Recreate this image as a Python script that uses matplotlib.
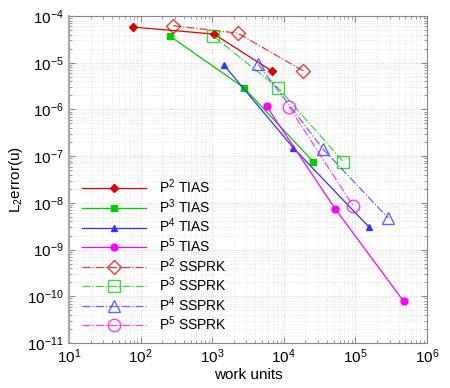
import matplotlib
matplotlib.use("Agg")
import matplotlib.pyplot as plt
from matplotlib.ticker import LogLocator, NullFormatter, FixedLocator, LogFormatterSciNotation

plt.rcParams['font.family'] = ['Liberation Sans', 'DejaVu Sans']
plt.rcParams['mathtext.fontset'] = 'custom'
plt.rcParams['mathtext.rm'] = 'Liberation Sans'
plt.rcParams['mathtext.it'] = 'Liberation Sans:italic'
plt.rcParams['mathtext.bf'] = 'Liberation Sans:bold'

# data
p2_tias_x = [78, 1060, 6840]
p2_tias_y = [5.8e-5, 4.1e-5, 6.6e-6]
p3_tias_x = [257, 2780, 25800]
p3_tias_y = [3.7e-5, 2.9e-6, 7.6e-8]
p4_tias_x = [1460, 13600, 156000]
p4_tias_y = [8.9e-6, 1.5e-7, 3.0e-9]
p5_tias_x = [5770, 52400, 473000]
p5_tias_y = [1.16e-6, 7.4e-9, 7.8e-11]

p2_ssprk_x = [286, 2270, 18700]
p2_ssprk_y = [6.2e-5, 4.3e-5, 6.7e-6]
p3_ssprk_x = [1040, 8300, 67800]
p3_ssprk_y = [3.7e-5, 2.9e-6, 7.6e-8]
p4_ssprk_x = [4400, 35600, 288000]
p4_ssprk_y = [9.2e-6, 1.4e-7, 4.7e-9]
p5_ssprk_x = [11800, 93500]
p5_ssprk_y = [1.15e-6, 8.5e-9]

x_ticks = [1e1, 1e2, 1e3, 1e4, 1e5, 1e6]
y_ticks = [1e-11, 1e-10, 1e-9, 1e-8, 1e-7, 1e-6, 1e-5, 1e-4]

labels = [r"P$^2$ TIAS", r"P$^3$ TIAS", r"P$^4$ TIAS", r"P$^5$ TIAS",
          r"P$^2$ SSPRK", r"P$^3$ SSPRK", r"P$^4$ SSPRK", r"P$^5$ SSPRK"]

fig = plt.figure(figsize=(4.5, 3.88), dpi=100)
ax = fig.add_axes([69/450, 1-343/388, (427-69)/450, (343-16)/388])

red, green, blue, mag = '#dd0000', '#00cc00', '#3333ff', '#ff00ff'
lw = 0.9
ax.plot(p2_tias_x, p2_tias_y, '-', color=red, marker='D', ms=4.5, lw=lw, label=labels[0])
ax.plot(p3_tias_x, p3_tias_y, '-', color=green, marker='s', ms=4.5, lw=lw, label=labels[1])
ax.plot(p4_tias_x, p4_tias_y, '-', color=blue, marker='^', ms=5, lw=lw, label=labels[2])
ax.plot(p5_tias_x, p5_tias_y, '-', color=mag, marker='o', ms=5, lw=lw, label=labels[3])

a = 0.75
ax.plot(p2_ssprk_x, p2_ssprk_y, '-.', color=red, marker='D', ms=7.5, mfc='none', lw=lw, alpha=a, label=labels[4])
ax.plot(p3_ssprk_x, p3_ssprk_y, '-.', color=green, marker='s', ms=8, mfc='none', lw=lw, alpha=a, label=labels[5])
ax.plot(p4_ssprk_x, p4_ssprk_y, '-.', color=blue, marker='^', ms=8, mfc='none', lw=lw, alpha=a, label=labels[6])
ax.plot(p5_ssprk_x, p5_ssprk_y, '-.', color=mag, marker='o', ms=9, mfc='none', lw=lw, alpha=a, label=labels[7])

ax.set_xscale('log')
ax.set_yscale('log')
ax.set_xlim(x_ticks[0], x_ticks[-1])
ax.set_ylim(y_ticks[0], y_ticks[-1])
ax.xaxis.set_major_locator(FixedLocator(x_ticks))
ax.yaxis.set_major_locator(FixedLocator(y_ticks))
ax.xaxis.set_major_formatter(LogFormatterSciNotation())
ax.yaxis.set_major_formatter(LogFormatterSciNotation())
ax.xaxis.set_minor_locator(LogLocator(base=10, subs=range(2, 10), numticks=100))
ax.yaxis.set_minor_locator(LogLocator(base=10, subs=range(2, 10), numticks=100))
ax.xaxis.set_minor_formatter(NullFormatter())
ax.yaxis.set_minor_formatter(NullFormatter())

ax.grid(True, which='major', color='#cccccc', ls=':', lw=0.6)
ax.grid(True, which='minor', color='#dddddd', ls=':', lw=0.5)
ax.set_axisbelow(True)
for s in ax.spines.values():
    s.set_color('#888888')
    s.set_linewidth(0.8)
ax.spines['left'].set_linewidth(1.6)
ax.spines['left'].set_color('#aaaaaa')
ax.tick_params(which='both', direction='in', top=True, right=True, color='#888888', labelsize=11, labelcolor='black')
ax.tick_params(which='major', length=4)
ax.tick_params(which='minor', length=2)

ax.set_xlabel('work units', fontsize=11, labelpad=1)
ax.set_ylabel(r'L$_2$error(u)', fontsize=11, labelpad=2)

leg = ax.legend(loc='lower left', frameon=False, fontsize=10, handlelength=4.6,
                labelspacing=0.07, borderaxespad=0.3, handletextpad=0.9,
                bbox_to_anchor=(0.01, 0.0))

fig.savefig('out.png', dpi=100)
